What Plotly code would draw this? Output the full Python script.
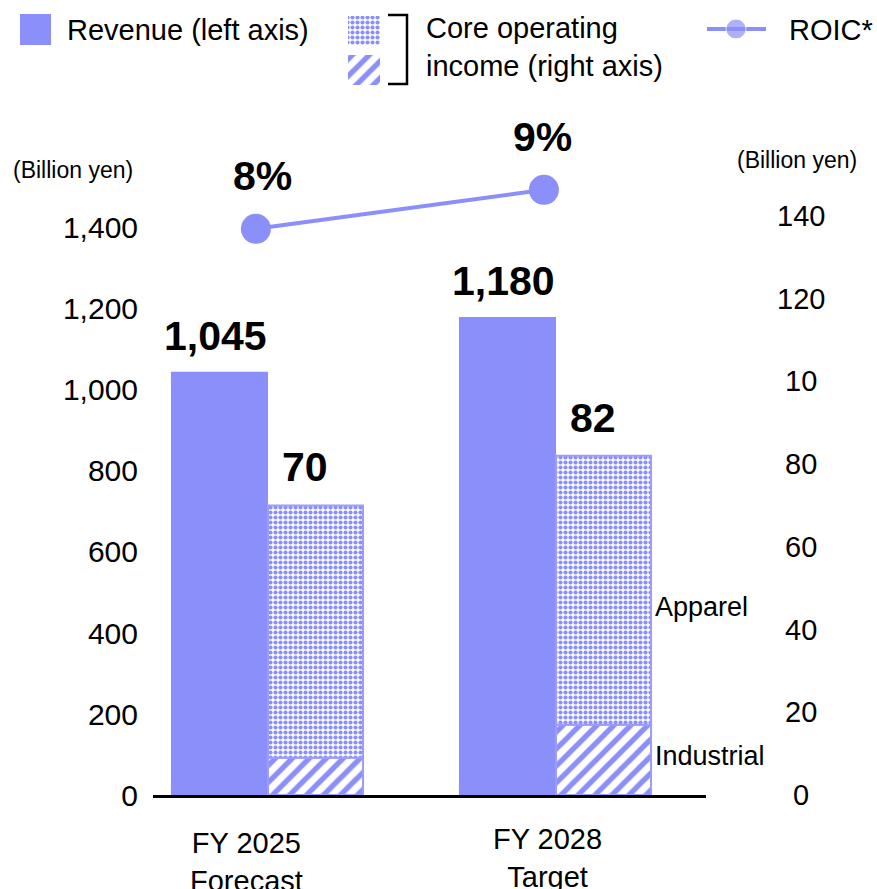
import plotly.graph_objects as go

# ---- data -------------------------------------------------------------
periods = ["FY 2025<br>Forecast", "FY 2028<br>Target"]
revenue = [1045, 1180]            # billion yen, left axis
industrial = [9, 17]              # core operating income, right axis
apparel = [61, 65]
core_income = [70, 82]            # totals shown above the stacked bars
roic = [8, 9]                     # percent
left_ticks = [0, 200, 400, 600, 800, 1000, 1200, 1400]
right_ticks = [0, 20, 40, 60, 80, 100, 120, 140]
right_tick_text = ["0", "20", "40", "60", "80", "10", "120", "140"]

# ---- style ------------------------------------------------------------
W, H = 877, 889
PURPLE = "#8b8ff9"
EDGE = "#9a9dfb"
FONT = "Liberation Sans, Arial, sans-serif"


def px(x):
    return x / W


def py(y):
    return 1 - y / H


pos = list(range(len(periods)))
REV_W = 0.337
OP_W = 0.33
ROIC_SHIFT = -0.042

dots = dict(shape=".", fgcolor=PURPLE, bgcolor="white", fgopacity=1,
            size=5, solidity=0.55)
hatch = dict(shape="/", fgcolor=PURPLE, bgcolor="white", fgopacity=1,
             size=12, solidity=0.45)

fig = go.Figure()

# revenue bars (left axis)
fig.add_trace(go.Bar(
    x=pos, y=revenue, offset=-REV_W, width=REV_W,
    marker=dict(color=PURPLE, line=dict(width=0)),
    xaxis="x", yaxis="y", showlegend=False, hoverinfo="skip"))

# core operating income, stacked by segment (right axis)
fig.add_trace(go.Bar(
    x=pos, y=industrial, offset=0, width=OP_W,
    marker=dict(color="white", line=dict(color=EDGE, width=2), pattern=hatch),
    xaxis="x", yaxis="y2", showlegend=False, hoverinfo="skip"))
fig.add_trace(go.Bar(
    x=pos, y=apparel, base=industrial, offset=0, width=OP_W,
    marker=dict(color="white", line=dict(color=EDGE, width=2), pattern=dots),
    xaxis="x", yaxis="y2", showlegend=False, hoverinfo="skip"))

# ROIC line
fig.add_trace(go.Scatter(
    x=[p + ROIC_SHIFT for p in pos], y=roic, mode="lines+markers",
    line=dict(color=PURPLE, width=4), marker=dict(size=30, color=PURPLE),
    xaxis="x", yaxis="y3", showlegend=False, hoverinfo="skip"))

# ---- legend swatches on a full-figure pixel grid ----------------------
fig.add_trace(go.Bar(
    x=[35.5], y=[31], base=[14], width=[31],
    marker=dict(color=PURPLE, line=dict(width=0)),
    xaxis="x2", yaxis="y4", showlegend=False, hoverinfo="skip"))
fig.add_trace(go.Bar(
    x=[364], y=[29], base=[16], width=[32],
    marker=dict(color="white", line=dict(width=0), pattern=dots),
    xaxis="x2", yaxis="y4", showlegend=False, hoverinfo="skip"))
fig.add_trace(go.Bar(
    x=[364], y=[30], base=[55], width=[32],
    marker=dict(color="white", line=dict(width=0), pattern=hatch),
    xaxis="x2", yaxis="y4", showlegend=False, hoverinfo="skip"))
fig.add_trace(go.Scatter(
    x=[707, 736, 766], y=[29, 29, 29], mode="lines+markers",
    line=dict(color=PURPLE, width=4), marker=dict(size=[0, 20, 0], color=PURPLE),
    xaxis="x2", yaxis="y4", showlegend=False, hoverinfo="skip"))

annotations = []


def text(x, y, s, size, xanchor="center", yanchor="middle", bold=False, **kw):
    annotations.append(dict(
        x=x, y=y, text=f"<b>{s}</b>" if bold else s, showarrow=False,
        xanchor=xanchor, yanchor=yanchor, font=dict(family=FONT, size=size, color="black"),
        **{"xref": "paper", "yref": "paper", **kw}))


# legend texts
text(px(65), py(30), "Revenue (left axis)", 29, xanchor="left")
text(px(424), py(47), "Core operating<br>income (right axis)", 29, xanchor="left", align="left")
text(px(787), py(30), "ROIC*", 29, xanchor="left")

# axis unit captions
text(px(73), py(170), "(Billion yen)", 23)
text(px(797), py(160), "(Billion yen)", 23)

# right-axis tick labels
for v, s in zip(right_ticks, right_tick_text):
    text(px(801), v, s, 29, yref="y2")

# period labels under the axis
for p, s, dx, dy in zip(pos, periods, [-22, -9], [0, 4]):
    text(p, py(825), s, 29, yanchor="top", xref="x", xshift=dx, yshift=dy)

# value labels
for p, v in zip(pos, revenue):
    text(p - REV_W / 2, v, f"{v:,}", 41, yanchor="bottom", bold=True,
         xref="x", yref="y", xshift=-4, yshift=11)
for p, v in zip(pos, core_income):
    text(p + OP_W / 2, v, f"{v}", 41, yanchor="bottom", bold=True,
         xref="x", yref="y2", xshift=-11, yshift=13)
for p, v, dx in zip(pos, roic, [7, -1]):
    text(p + ROIC_SHIFT, v, f"{v}%", 41, yanchor="bottom", bold=True,
         xref="x", yref="y3", xshift=dx, yshift=28)

# segment labels beside the FY 2028 bar
last = pos[-1]
text(last + OP_W, industrial[-1] + apparel[-1] / 2, "Apparel", 27, xanchor="left",
     xref="x", yref="y2", xshift=2, yshift=-17)
text(last + OP_W, industrial[-1] / 2, "Industrial", 27, xanchor="left",
     xref="x", yref="y2", xshift=2, yshift=4)

BASE_Y, TOP_Y = 795, 100
X_L, X_R = 153, 706
GROUP_PX = 288          # horizontal pixels between the two period groups
CENTER0 = 268           # pixel position of the first group centre

fig.update_layout(
    width=W, height=H,
    margin=dict(l=0, r=0, t=0, b=0, autoexpand=False),
    paper_bgcolor="white", plot_bgcolor="rgba(0,0,0,0)",
    barmode="overlay", showlegend=False,
    font=dict(family=FONT, color="black"),
    xaxis=dict(domain=[px(X_L), px(X_R)],
               range=[(X_L - CENTER0) / GROUP_PX, (X_R - CENTER0) / GROUP_PX],
               showline=True, linecolor="black", linewidth=2.5,
               showticklabels=False, showgrid=False, zeroline=False, ticks="",
               anchor="y", fixedrange=True, automargin=False),
    yaxis=dict(domain=[py(BASE_Y), py(TOP_Y)], range=[0, 1716],
               tickvals=left_ticks, tickformat=",",
               tickfont=dict(family=FONT, size=30, color="black"),
               ticks="", showline=False, showgrid=False, zeroline=False,
               ticklabelstandoff=14, anchor="x", automargin=False),
    yaxis2=dict(overlaying="y", side="right", range=[0, 168],
                showticklabels=False, showgrid=False, zeroline=False,
                showline=False, ticks="", anchor="x", automargin=False),
    yaxis3=dict(overlaying="y", range=[-6.5, 11.3], visible=False, anchor="x",
                automargin=False),
    xaxis2=dict(domain=[0, 1], range=[0, W], visible=False, anchor="y4",
                automargin=False),
    yaxis4=dict(domain=[0, 1], range=[H, 0], visible=False, anchor="x2",
                automargin=False),
    shapes=[dict(type="path", xref="x2", yref="y4",
                 path="M 388,15 L 407,15 L 407,84 L 388,84",
                 line=dict(color="black", width=2.5))],
    annotations=annotations,
)

fig.write_html("out.html")
